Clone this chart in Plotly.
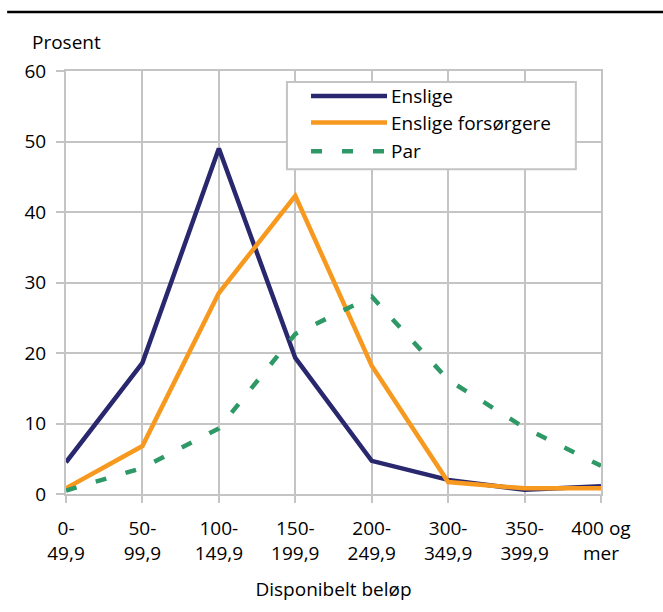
import plotly.graph_objects as go

categories = ["0-<br>49,9", "50-<br>99,9", "100-<br>149,9", "150-<br>199,9",
              "200-<br>249,9", "300-<br>349,9", "350-<br>399,9", "400 og<br>mer"]
enslige = [4.5, 18.6, 49.0, 19.3, 4.7, 2.0, 0.6, 1.1]
enslige_forsorgere = [0.8, 6.8, 28.5, 42.3, 18.2, 1.7, 0.8, 0.8]
par = [0.5, 3.7, 9.3, 22.7, 28.0, 16.2, 9.4, 4.0]
y_ticks = [0, 10, 20, 30, 40, 50, 60]

series = [
    ("Enslige", enslige, "#29286e", "solid"),
    ("Enslige forsørgere", enslige_forsorgere, "#f7991f", "solid"),
    ("Par", par, "#2e9966", "11px,20px"),
]

FONT = "Open Sans"
FS = 19
TXT = "#000000"
xs = list(range(len(categories)))

fig = go.Figure()
for name, vals, col, dash in series:
    fig.add_trace(go.Scatter(x=xs, y=vals, mode="lines", name=name,
                             line=dict(color=col, width=4.5, dash=dash),
                             showlegend=False, cliponaxis=True))

# custom legend (box, line samples, labels)
lx0, lx1, ly0, ly1 = 0.413, 0.953, 0.768, 0.974
fig.add_shape(type="rect", xref="paper", yref="paper", x0=lx0, x1=lx1, y0=ly0, y1=ly1,
              line=dict(color="#c4c4c4", width=2), fillcolor="white", layer="above")
row_y = [0.941, 0.878, 0.810]
for (name, vals, col, dash), ry in zip(series, row_y):
    fig.add_shape(type="line", xref="paper", yref="paper", x0=0.458, x1=0.600, y0=ry, y1=ry,
                  line=dict(color=col, width=4.5, dash=dash), layer="above")
    fig.add_annotation(xref="paper", yref="paper", x=0.603, y=ry, text=name, showarrow=False,
                       xanchor="left", yanchor="middle", font=dict(family=FONT, size=FS, color=TXT))

# top rule
fig.add_shape(type="line", xref="paper", yref="paper", x0=-0.11, x1=1.2, y0=1.1395, y1=1.1395,
              line=dict(color="black", width=2.5))

fig.add_annotation(xref="paper", yref="paper", x=-0.068, y=1.068, text="Prosent", showarrow=False,
                   xanchor="left", yanchor="middle", font=dict(family=FONT, size=FS, color=TXT))

fig.update_layout(
    width=663, height=612,
    margin=dict(l=66, r=62, t=71, b=118),
    paper_bgcolor="white", plot_bgcolor="white",
    font=dict(family=FONT, size=FS, color=TXT),
    xaxis=dict(range=[0, 7], tickvals=xs, ticktext=categories, showgrid=True,
               gridcolor="#c4c4c4", gridwidth=2, zeroline=False, showline=True,
               linecolor="#c4c4c4", linewidth=2, mirror=True,
               ticks="outside", ticklen=7, tickcolor="#c4c4c4", tickwidth=2,
               ticklabelstandoff=9,
               title=dict(text="Disponibelt beløp", font=dict(size=FS), standoff=18),
               tickfont=dict(size=FS)),
    yaxis=dict(range=[0, 60], tickvals=y_ticks, showgrid=True, gridcolor="#c4c4c4",
               gridwidth=2, zeroline=False, showline=True, linecolor="#c4c4c4",
               linewidth=2, mirror=True, ticks="outside", ticklen=8,
               tickcolor="#c4c4c4", tickwidth=2, ticklabelstandoff=6,
               tickfont=dict(size=FS)),
)

fig.write_html("out.html", config={"displayModeBar": False},
               post_script="document.body.style.margin='0';")
